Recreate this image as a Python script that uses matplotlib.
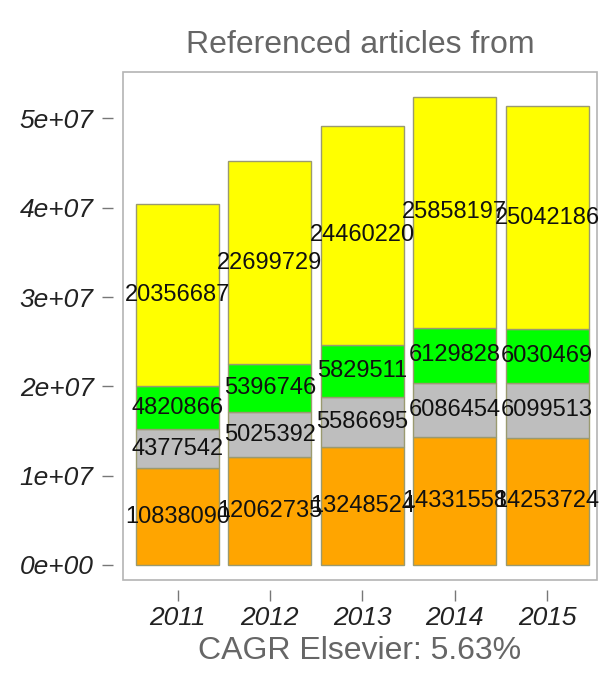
import numpy as np
import matplotlib.pyplot as plt
from matplotlib.patches import Rectangle
from matplotlib.ticker import FuncFormatter

plt.rcParams['font.family'] = ['Liberation Sans', 'DejaVu Sans']

# Datos
years = ['2011', '2012', '2013', '2014', '2015']
orange_vals = [10838090, 12062735, 13248524, 14331558, 14253724]
gray_vals = [4377542, 5025392, 5586695, 6086454, 6099513]
green_vals = [4820866, 5396746, 5829511, 6129828, 6030469]
yellow_vals = [20356687, 22699729, 24460220, 25858197, 25042186]
yticks = [0, 1e7, 2e7, 3e7, 4e7, 5e7]

series = [orange_vals, gray_vals, green_vals, yellow_vals]
colors = ['#FFA500', '#BEBEBE', '#00FF00', '#FFFF00']

# Crear figura
fig = plt.figure(figsize=(6.02, 6.74), dpi=100)
ax = fig.add_axes([0.2043, 0.1395, 0.7874, 0.7537])

x = np.arange(len(years))
bottom = np.zeros(len(years))
for vals, c in zip(series, colors):
    vals = np.array(vals, dtype=float)
    ax.bar(x, vals, width=0.9, bottom=bottom, color=c,
           edgecolor='#9a9a70', linewidth=1)
    for xi, b, v in zip(x, bottom, vals):
        ax.text(xi, b + v / 2, str(int(v)), ha='center', va='center',
                fontsize=17, color='#111111')
    bottom += vals

ax.set_xlim(-0.59, 4.54)
ax.set_ylim(-0.168e7, 5.52e7)

# Ejes estilo R
for s in ['top', 'right']:
    ax.spines[s].set_visible(False)
for s in ['left', 'bottom']:
    ax.spines[s].set_position(('outward', 7.2))
    ax.spines[s].set_color('none')
ax.add_patch(Rectangle((0, 0), 1, 1, transform=ax.transAxes, fill=False,
                       edgecolor='#b4b4b4', linewidth=1.2, clip_on=False))

ax.set_xticks(x)
ax.set_xticklabels(years)
ax.set_yticks(yticks)
ax.yaxis.set_major_formatter(FuncFormatter(lambda v, p: '%de+%02d' % (round(v / 1e7), 7) if v else '0e+00'))
ax.tick_params(axis='both', direction='out', length=8, width=1, color='#777777',
               labelsize=19, labelcolor='#222222')
ax.tick_params(axis='y', pad=6)
for lab in ax.get_xticklabels() + ax.get_yticklabels():
    lab.set_style('italic')

ax.set_title('Referenced articles from', fontsize=23, color='#666666', pad=14)
ax.set_xlabel('CAGR Elsevier: 5.63%', fontsize=23, color='#666666', labelpad=4)

fig.savefig('out.png', dpi=100)
